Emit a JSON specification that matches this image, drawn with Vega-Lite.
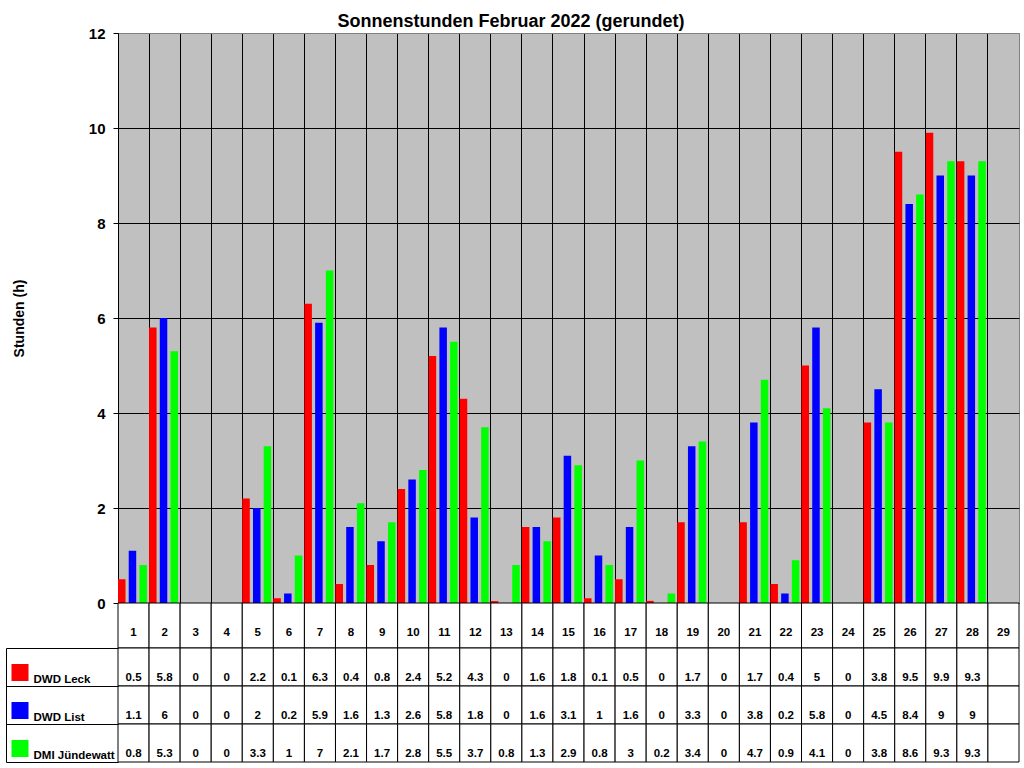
{
  "$schema": "https://vega.github.io/schema/vega-lite/v6.json",
  "padding": {"left": 2, "top": 12, "right": 4, "bottom": 0},
  "background": "white",
  "spacing": 0,
  "bounds": "flush",
  "config": {"font": "Liberation Sans", "concat": {"spacing": 0}},
  "title": {"text": "Sonnenstunden Februar 2022 (gerundet)", "fontSize": 18, "fontWeight": "bold", "font": "Liberation Sans", "color": "black", "anchor": "middle", "offset": -5},
  "data": {"values": [
    {"day": 1, "series": "DWD Leck", "value": 0.5}, {"day": 1, "series": "DWD List", "value": 1.1}, {"day": 1, "series": "DMI Jündewatt", "value": 0.8},
    {"day": 2, "series": "DWD Leck", "value": 5.8}, {"day": 2, "series": "DWD List", "value": 6}, {"day": 2, "series": "DMI Jündewatt", "value": 5.3},
    {"day": 3, "series": "DWD Leck", "value": 0}, {"day": 3, "series": "DWD List", "value": 0}, {"day": 3, "series": "DMI Jündewatt", "value": 0},
    {"day": 4, "series": "DWD Leck", "value": 0}, {"day": 4, "series": "DWD List", "value": 0}, {"day": 4, "series": "DMI Jündewatt", "value": 0},
    {"day": 5, "series": "DWD Leck", "value": 2.2}, {"day": 5, "series": "DWD List", "value": 2}, {"day": 5, "series": "DMI Jündewatt", "value": 3.3},
    {"day": 6, "series": "DWD Leck", "value": 0.1}, {"day": 6, "series": "DWD List", "value": 0.2}, {"day": 6, "series": "DMI Jündewatt", "value": 1},
    {"day": 7, "series": "DWD Leck", "value": 6.3}, {"day": 7, "series": "DWD List", "value": 5.9}, {"day": 7, "series": "DMI Jündewatt", "value": 7},
    {"day": 8, "series": "DWD Leck", "value": 0.4}, {"day": 8, "series": "DWD List", "value": 1.6}, {"day": 8, "series": "DMI Jündewatt", "value": 2.1},
    {"day": 9, "series": "DWD Leck", "value": 0.8}, {"day": 9, "series": "DWD List", "value": 1.3}, {"day": 9, "series": "DMI Jündewatt", "value": 1.7},
    {"day": 10, "series": "DWD Leck", "value": 2.4}, {"day": 10, "series": "DWD List", "value": 2.6}, {"day": 10, "series": "DMI Jündewatt", "value": 2.8},
    {"day": 11, "series": "DWD Leck", "value": 5.2}, {"day": 11, "series": "DWD List", "value": 5.8}, {"day": 11, "series": "DMI Jündewatt", "value": 5.5},
    {"day": 12, "series": "DWD Leck", "value": 4.3}, {"day": 12, "series": "DWD List", "value": 1.8}, {"day": 12, "series": "DMI Jündewatt", "value": 3.7},
    {"day": 13, "series": "DWD Leck", "value": 0.04}, {"day": 13, "series": "DWD List", "value": 0}, {"day": 13, "series": "DMI Jündewatt", "value": 0.8},
    {"day": 14, "series": "DWD Leck", "value": 1.6}, {"day": 14, "series": "DWD List", "value": 1.6}, {"day": 14, "series": "DMI Jündewatt", "value": 1.3},
    {"day": 15, "series": "DWD Leck", "value": 1.8}, {"day": 15, "series": "DWD List", "value": 3.1}, {"day": 15, "series": "DMI Jündewatt", "value": 2.9},
    {"day": 16, "series": "DWD Leck", "value": 0.1}, {"day": 16, "series": "DWD List", "value": 1}, {"day": 16, "series": "DMI Jündewatt", "value": 0.8},
    {"day": 17, "series": "DWD Leck", "value": 0.5}, {"day": 17, "series": "DWD List", "value": 1.6}, {"day": 17, "series": "DMI Jündewatt", "value": 3},
    {"day": 18, "series": "DWD Leck", "value": 0.045}, {"day": 18, "series": "DWD List", "value": 0}, {"day": 18, "series": "DMI Jündewatt", "value": 0.2},
    {"day": 19, "series": "DWD Leck", "value": 1.7}, {"day": 19, "series": "DWD List", "value": 3.3}, {"day": 19, "series": "DMI Jündewatt", "value": 3.4},
    {"day": 20, "series": "DWD Leck", "value": 0}, {"day": 20, "series": "DWD List", "value": 0}, {"day": 20, "series": "DMI Jündewatt", "value": 0},
    {"day": 21, "series": "DWD Leck", "value": 1.7}, {"day": 21, "series": "DWD List", "value": 3.8}, {"day": 21, "series": "DMI Jündewatt", "value": 4.7},
    {"day": 22, "series": "DWD Leck", "value": 0.4}, {"day": 22, "series": "DWD List", "value": 0.2}, {"day": 22, "series": "DMI Jündewatt", "value": 0.9},
    {"day": 23, "series": "DWD Leck", "value": 5}, {"day": 23, "series": "DWD List", "value": 5.8}, {"day": 23, "series": "DMI Jündewatt", "value": 4.1},
    {"day": 24, "series": "DWD Leck", "value": 0}, {"day": 24, "series": "DWD List", "value": 0}, {"day": 24, "series": "DMI Jündewatt", "value": 0},
    {"day": 25, "series": "DWD Leck", "value": 3.8}, {"day": 25, "series": "DWD List", "value": 4.5}, {"day": 25, "series": "DMI Jündewatt", "value": 3.8},
    {"day": 26, "series": "DWD Leck", "value": 9.5}, {"day": 26, "series": "DWD List", "value": 8.4}, {"day": 26, "series": "DMI Jündewatt", "value": 8.6},
    {"day": 27, "series": "DWD Leck", "value": 9.9}, {"day": 27, "series": "DWD List", "value": 9}, {"day": 27, "series": "DMI Jündewatt", "value": 9.3},
    {"day": 28, "series": "DWD Leck", "value": 9.3}, {"day": 28, "series": "DWD List", "value": 9}, {"day": 28, "series": "DMI Jündewatt", "value": 9.3},
    {"day": 29, "series": "DWD Leck", "value": null}, {"day": 29, "series": "DWD List", "value": null}, {"day": 29, "series": "DMI Jündewatt", "value": null}
  ]},
  "vconcat": [
    {
      "width": 901,
      "height": 570,
      "view": {"fill": "#c0c0c0", "stroke": "#808080", "strokeWidth": 1},
      "mark": {"type": "bar"},
      "encoding": {
        "x": {"field": "day", "type": "ordinal",
          "scale": {"domain": [1,2,3,4,5,6,7,8,9,10,11,12,13,14,15,16,17,18,19,20,21,22,23,24,25,26,27,28,29], "paddingInner": 0, "paddingOuter": 0},
          "axis": {"grid": true, "bandPosition": 0, "gridColor": "black", "gridOpacity": 1, "gridWidth": 1, "labels": false, "ticks": false, "domain": false, "title": null}},
        "xOffset": {"field": "series", "type": "nominal",
          "scale": {"domain": ["DWD Leck", "DWD List", "DMI Jündewatt"], "paddingInner": 0.3, "paddingOuter": 0.1, "align": 0}},
        "y": {"field": "value", "type": "quantitative",
          "scale": {"domain": [0, 12], "nice": false},
          "axis": {"values": [0,2,4,6,8,10,12], "grid": true,
            "gridColor": {"condition": {"test": "datum.value === 12", "value": "#808080"}, "value": "black"},
            "gridOpacity": 1, "domainColor": "black", "tickColor": "black", "tickSize": 5,
            "labelFontSize": 15, "labelFontWeight": "bold", "labelColor": "black", "labelPadding": 8,
            "title": "Stunden (h)", "titleFontSize": 14, "titleFontWeight": "bold", "titleColor": "black", "titlePadding": 62}},
        "color": {"field": "series", "type": "nominal",
          "scale": {"domain": ["DWD Leck", "DWD List", "DMI Jündewatt"], "range": ["#ff0000", "#0000ff", "#00ff00"]},
          "legend": null}
      }
    },
    {
      "width": 901,
      "height": 45,
      "view": {"stroke": null},
      "transform": [{"filter": "datum.series === 'DWD Leck'"}],
      "layer": [
        {
          "mark": {"type": "rect", "fill": "white", "stroke": "black", "strokeWidth": 1},
          "encoding": {
            "x": {"field": "day", "type": "ordinal",
              "scale": {"domain": [1,2,3,4,5,6,7,8,9,10,11,12,13,14,15,16,17,18,19,20,21,22,23,24,25,26,27,28,29], "paddingInner": 0, "paddingOuter": 0},
              "axis": null}
          }
        },
        {
          "mark": {"type": "text", "fontWeight": "bold", "fontSize": 11.5, "dy": 7, "color": "black"},
          "encoding": {
            "x": {"field": "day", "type": "ordinal", "axis": null},
            "text": {"field": "day", "type": "ordinal"}
          }
        }
      ]
    },
    {
      "width": 901,
      "height": 114,
      "view": {"stroke": null},
      "resolve": {"axis": {"y": "independent"}},
      "layer": [
        {
          "mark": {"type": "rect", "fill": "white", "stroke": "black", "strokeWidth": 1},
          "encoding": {
            "x": {"field": "day", "type": "ordinal",
              "scale": {"domain": [1,2,3,4,5,6,7,8,9,10,11,12,13,14,15,16,17,18,19,20,21,22,23,24,25,26,27,28,29], "paddingInner": 0, "paddingOuter": 0},
              "axis": null},
            "y": {"field": "series", "type": "nominal",
              "scale": {"domain": ["DWD Leck", "DWD List", "DMI Jündewatt"], "paddingInner": 0, "paddingOuter": 0},
              "axis": {"orient": "left", "offset": 112, "title": null, "labels": false, "domain": true, "domainColor": "black",
                "ticks": true, "tickBand": "extent", "tickSize": -112, "tickColor": "black", "grid": false}}
          }
        },
        {
          "transform": [{"filter": "isValid(datum.value)"}],
          "mark": {"type": "text", "fontWeight": "bold", "fontSize": 11.5, "dy": 11, "color": "black"},
          "encoding": {
            "x": {"field": "day", "type": "ordinal", "axis": null},
            "y": {"field": "series", "type": "nominal",
              "axis": {"orient": "left", "offset": 90, "title": null, "domain": false, "grid": false,
                "ticks": true, "tickSize": 17, "tickWidth": 17, "bandPosition": 0.5, "tickOffset": 4.5,
                "tickColor": {"condition": [{"test": "datum.value === 'DWD Leck'", "value": "#ff0000"}, {"test": "datum.value === 'DWD List'", "value": "#0000ff"}], "value": "#00ff00"},
                "labelAlign": "left", "labelPadding": -22, "labelOffset": 7.5,
                "labelFontSize": 11.5, "labelFontWeight": "bold", "labelColor": "black"}},
            "text": {"field": "value", "type": "quantitative", "format": ".1~f"}
          }
        }
      ]
    }
  ]
}
